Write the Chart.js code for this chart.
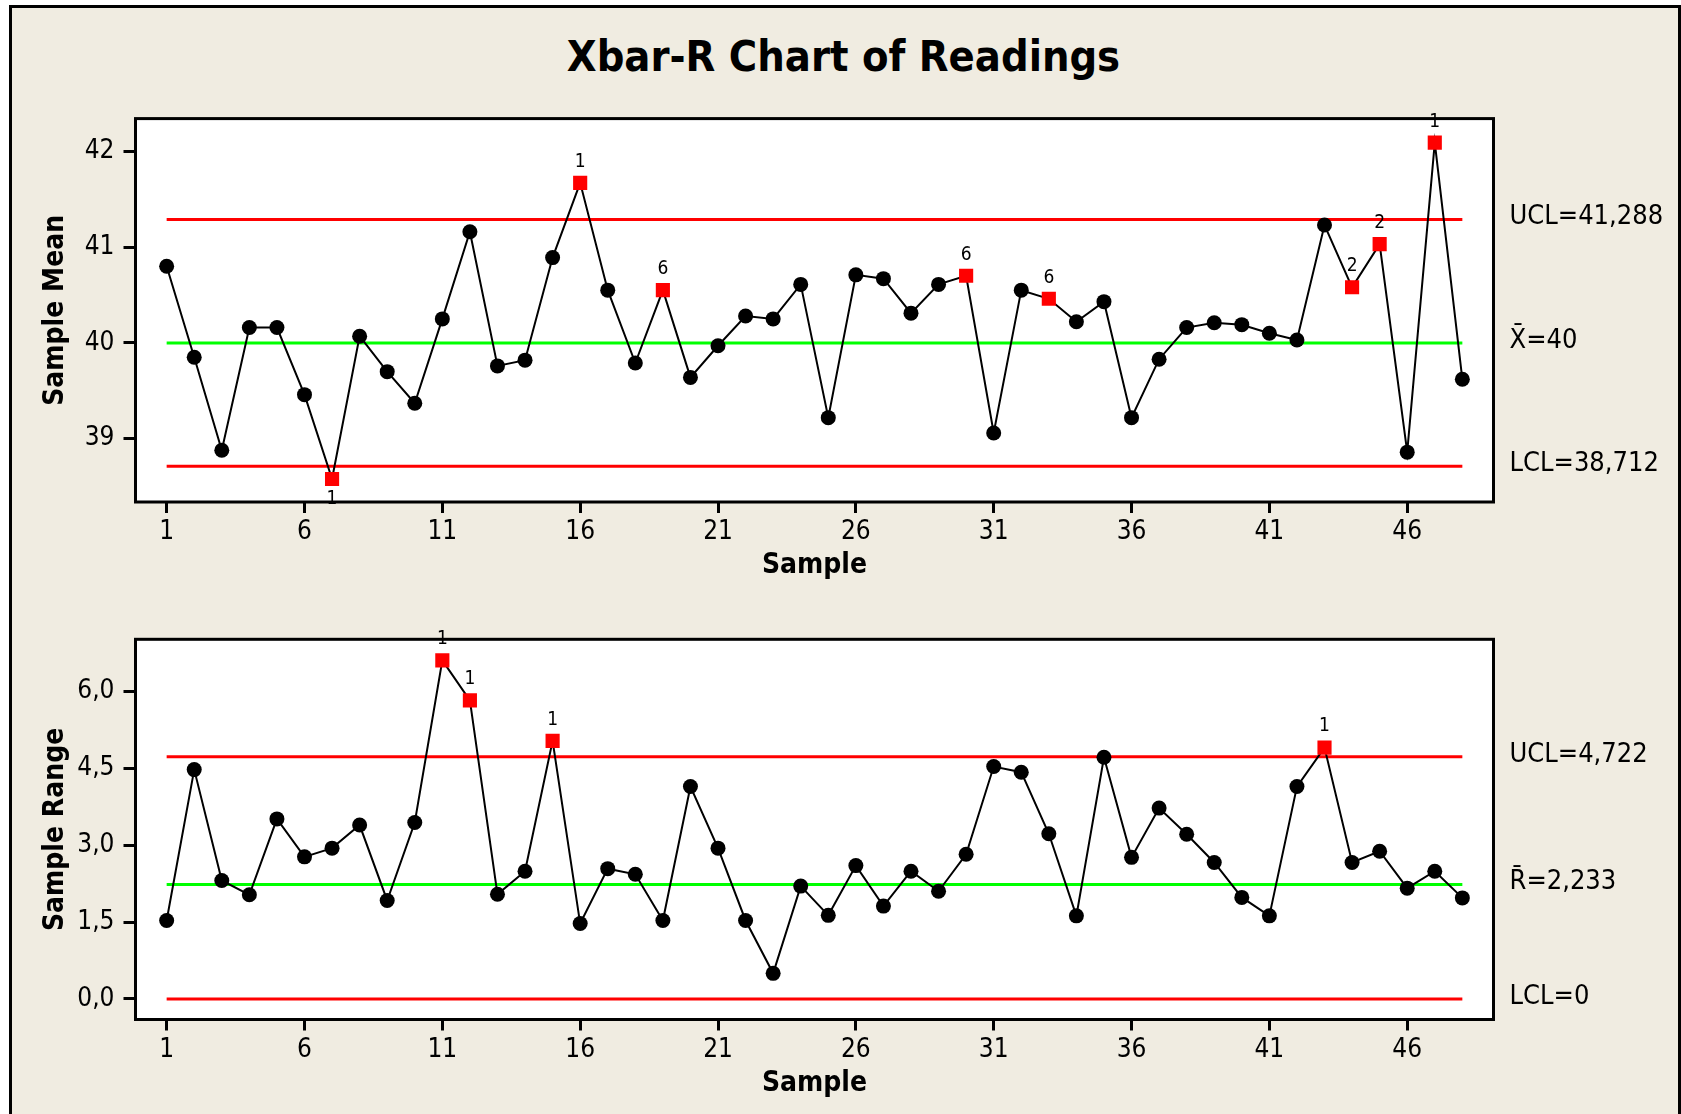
<!DOCTYPE html>
<html>
<head>
<meta charset="utf-8">
<title>Xbar-R Chart of Readings</title>
<script src="https://cdn.jsdelivr.net/npm/chart.js@4.4.1/dist/chart.umd.min.js"></script>
<style>
  html, body { margin: 0; padding: 0; background: #fff; }
  body { position: relative; width: 1681px; height: 1114px; overflow: hidden; }
  #frame { position: absolute; left: 9px; top: 5px; width: 1666px; height: 1200px;
           border: 3px solid #000; background: #f0ece1; }
  #title { position: absolute; left: 0; top: 33px; width: 1687px; text-align: center;
           font: bold 43px "DejaVu Sans Condensed", "DejaVu Sans", sans-serif;
           line-height: 46px; color: #000; }
  .box { position: absolute; left: 0; width: 1681px; }
  #meanBox { top: 94px; height: 496px; }
  #rangeBox { top: 590px; height: 524px; }
</style>
</head>
<body>
<div id="frame"></div>
<div id="title">Xbar-R Chart of Readings</div>
<div class="box" id="meanBox"><canvas id="mean-chart" width="1681" height="496"></canvas></div>
<div class="box" id="rangeBox"><canvas id="range-chart" width="1681" height="524"></canvas></div>

<script>
// data
const sampleNo = [1, 2, 3, 4, 5, 6, 7, 8, 9, 10, 11, 12, 13, 14, 15, 16, 17, 18, 19, 20, 21, 22, 23, 24,
                  25, 26, 27, 28, 29, 30, 31, 32, 33, 34, 35, 36, 37, 38, 39, 40, 41, 42, 43, 44, 45, 46, 47, 48];

const sampleMeans = [40.80, 39.85, 38.88, 40.16, 40.16, 39.46, 38.58, 40.07, 39.70, 39.37, 40.25, 41.16,
                     39.76, 39.82, 40.89, 41.67, 40.55, 39.79, 40.55, 39.64, 39.97, 40.28, 40.25, 40.61,
                     39.22, 40.71, 40.67, 40.31, 40.61, 40.70, 39.06, 40.55, 40.46, 40.22, 40.43, 39.22,
                     39.83, 40.16, 40.21, 40.19, 40.10, 40.03, 41.23, 40.58, 41.03, 38.86, 42.09, 39.62];

const sampleRanges = [1.53, 4.47, 2.31, 2.03, 3.51, 2.77, 2.94, 3.39, 1.92, 3.44, 6.60, 5.82,
                      2.04, 2.49, 5.03, 1.47, 2.54, 2.43, 1.53, 4.14, 2.94, 1.53, 0.50, 2.20,
                      1.63, 2.60, 1.81, 2.49, 2.10, 2.82, 4.53, 4.42, 3.22, 1.62, 4.71, 2.76,
                      3.72, 3.21, 2.66, 1.98, 1.62, 4.14, 4.90, 2.66, 2.88, 2.16, 2.49, 1.97];

const sampleTicks = [1, 6, 11, 16, 21, 26, 31, 36, 41, 46];
const meanTicks = [39, 40, 41, 42];
const rangeTicks = [0, 1.5, 3, 4.5, 6];

const meanLimits = [41.288, 40, 38.712];          // UCL, centre, LCL
const meanLimitText = ['UCL=41,288', 'X\u0304=40', 'LCL=38,712'];
const rangeLimits = [4.722, 2.233, 0];
const rangeLimitText = ['UCL=4,722', 'R\u0304=2,233', 'LCL=0'];

// failed tests: sample number, test number, label below the point?
const meanFlagSamples = [7, 16, 19, 30, 33, 44, 45, 47];
const meanFlagTests = ['1', '1', '6', '6', '6', '2', '2', '1'];
const meanFlagBelow = [7];
const rangeFlagSamples = [11, 12, 15, 43];
const rangeFlagTests = ['1', '1', '1', '1'];

const FONT = '"DejaVu Sans Condensed", "DejaVu Sans", sans-serif';

// white plot area + frame round it
const framePlugin = {
  id: 'plotFrame',
  beforeDraw(chart) {
    const a = chart.chartArea, ctx = chart.ctx;
    ctx.save();
    ctx.fillStyle = '#fff';
    ctx.fillRect(a.left, a.top, a.right - a.left, a.bottom - a.top);
    ctx.restore();
  },
  afterDraw(chart) {
    const a = chart.chartArea, ctx = chart.ctx;
    ctx.save();
    ctx.lineWidth = 3;
    ctx.strokeStyle = '#000';
    ctx.strokeRect(a.left, a.top, a.right - a.left, a.bottom - a.top);
    ctx.restore();
  }
};

// limit texts at the right, and test numbers beside the red points
const notesPlugin = {
  id: 'notes',
  afterDraw(chart, args, opts) {
    const ctx = chart.ctx, y = chart.scales.y, a = chart.chartArea;
    ctx.save();
    ctx.fillStyle = '#000';
    ctx.font = '27px ' + FONT;
    ctx.textAlign = 'left';
    ctx.textBaseline = 'middle';
    opts.values.forEach((v, i) => ctx.fillText(opts.texts[i], a.right + 16, y.getPixelForValue(v) - 2));

    const meta = chart.getDatasetMeta(0);
    ctx.font = '19px ' + FONT;
    ctx.textAlign = 'center';
    opts.flags.forEach((s, i) => {
      const pt = meta.data[sampleNo.indexOf(s)];
      const below = opts.below.includes(s);
      ctx.fillText(opts.tests[i], pt.x, pt.y + (below ? 20 : -21));
    });
    ctx.restore();
  }
};

function limitSet(value, color) {
  return {
    data: [{x: sampleNo[0], y: value}, {x: sampleNo[sampleNo.length - 1], y: value}],
    borderColor: color, borderWidth: 3, pointRadius: 0, order: 2
  };
}

function makeChart(id, values, limits, texts, flags, tests, below, yTicks, yMin, yMax, yTitle, padTop, padBottom, fmt) {
  const flagged = ctx => flags.includes(sampleNo[ctx.dataIndex]);
  return new Chart(document.getElementById(id), {
    type: 'line',
    data: {
      datasets: [
        {
          data: sampleNo.map((s, i) => ({x: s, y: values[i]})),
          borderColor: '#000',
          borderWidth: 2,
          pointStyle: ctx => flagged(ctx) ? 'rect' : 'circle',
          pointRadius: ctx => flagged(ctx) ? 10 : 7.5,
          pointBackgroundColor: ctx => flagged(ctx) ? '#ff0000' : '#000',
          pointBorderColor: ctx => flagged(ctx) ? '#ff0000' : '#000',
          pointBorderWidth: 0,
          order: 1
        },
        limitSet(limits[0], '#ff0000'),
        limitSet(limits[1], '#00ff00'),
        limitSet(limits[2], '#ff0000')
      ]
    },
    options: {
      responsive: false,
      animation: false,
      devicePixelRatio: 1,
      layout: { padding: { top: padTop, right: 187.5, bottom: padBottom, left: 0 } },
      plugins: {
        legend: { display: false },
        tooltip: { enabled: false },
        notes: { values: limits, texts: texts, flags: flags, tests: tests, below: below }
      },
      scales: {
        x: {
          type: 'linear',
          min: -0.13,
          max: 49.13,
          afterBuildTicks: scale => { scale.ticks = sampleTicks.map(v => ({value: v})); },
          afterFit: scale => { scale.height = 88; },
          ticks: { color: '#000', font: { family: FONT, size: 26 }, padding: 4, maxRotation: 0 },
          grid: { drawOnChartArea: false, tickLength: 11, tickWidth: 3, tickColor: '#000' },
          border: { display: false },
          title: { display: true, text: 'Sample', color: '#000',
                   font: { family: FONT, size: 28, weight: 'bold' }, padding: { top: 0, bottom: 7 } }
        },
        y: {
          min: yMin,
          max: yMax,
          afterBuildTicks: scale => { scale.ticks = yTicks.map(v => ({value: v})); },
          afterFit: scale => { scale.width = 135.5; },
          ticks: { color: '#000', font: { family: FONT, size: 26 }, padding: 9, callback: fmt },
          grid: { drawOnChartArea: false, tickLength: 12, tickWidth: 3, tickColor: '#000' },
          border: { display: false },
          title: { display: true, text: yTitle, color: '#000',
                   font: { family: FONT, size: 28, weight: 'bold' }, padding: { top: 39, bottom: 0 } }
        }
      }
    },
    plugins: [framePlugin, notesPlugin]
  });
}

makeChart('mean-chart', sampleMeans, meanLimits, meanLimitText,
          meanFlagSamples, meanFlagTests, meanFlagBelow,
          meanTicks, 38.34, 42.34, 'Sample Mean', 19, 0, v => String(v));

makeChart('range-chart', sampleRanges, rangeLimits, rangeLimitText,
          rangeFlagSamples, rangeFlagTests, [],
          rangeTicks, -0.40, 7.01, 'Sample Range', 49.3, 6.5, v => v.toFixed(1).replace('.', ','));
</script>
</body>
</html>
